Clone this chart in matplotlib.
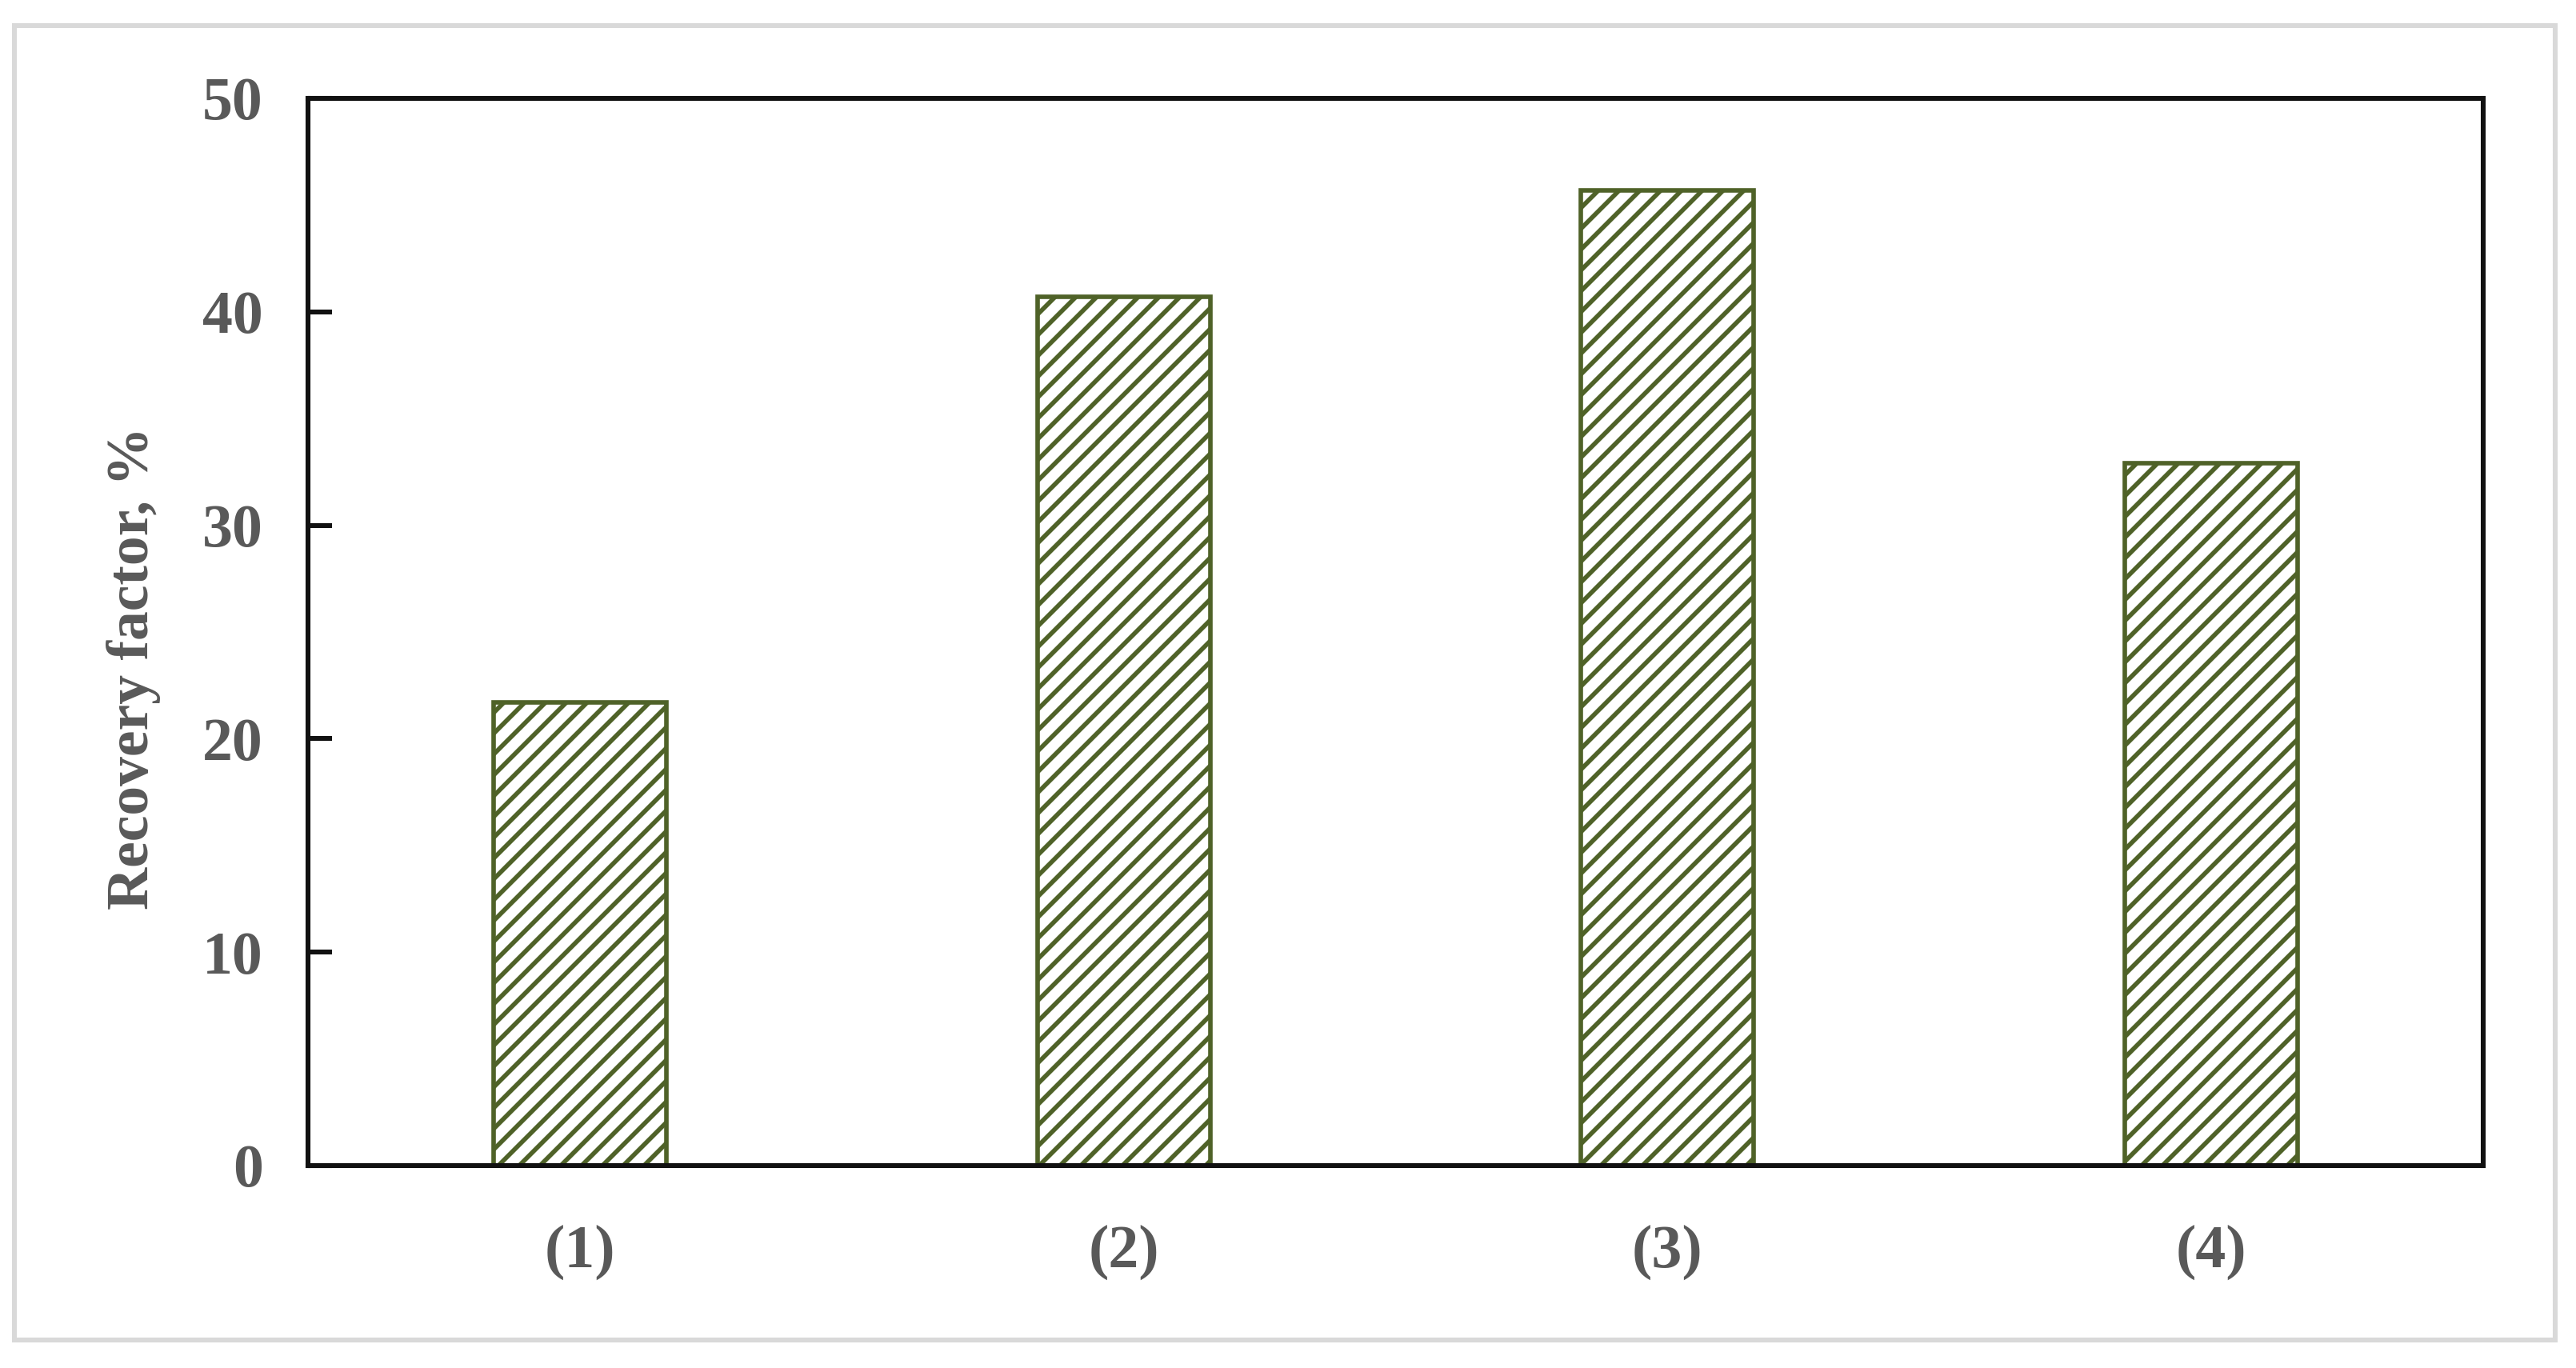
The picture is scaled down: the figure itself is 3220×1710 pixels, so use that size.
import matplotlib
matplotlib.use("Agg")
import matplotlib.pyplot as plt
from matplotlib.patches import Rectangle

categories = ["(1)", "(2)", "(3)", "(4)"]
recovery = [21.7, 40.7, 45.7, 32.9]
yticks = [0, 10, 20, 30, 40, 50]

DPI = 156
W, H = 3220, 1710
plt.rcParams['font.family'] = ['Liberation Serif', 'DejaVu Serif']
plt.rcParams['hatch.linewidth'] = 2.6
plt.rcParams['hatch.color'] = '#4f6228'

fig = plt.figure(figsize=(W / DPI, H / DPI), dpi=DPI)
fig.patch.set_facecolor('white')

# outer light-grey frame
fig.patches.append(Rectangle((18 / W, 1 - 1675 / H), (3194 - 18) / W, (1675 - 32) / H,
                             transform=fig.transFigure, fill=False,
                             edgecolor='#d9d9d9', linewidth=2.8, zorder=0))

ax = fig.add_axes([385 / W, 1 - 1457 / H, (3104 - 385) / W, (1457 - 123) / H])
x = range(len(categories))
ax.bar(x, recovery, width=0.318, color='white', edgecolor='#4f6228',
       linewidth=2.6, hatch='//', zorder=2)

ax.set_xlim(-0.5, 3.5)
ax.set_ylim(0, 50)
ax.set_yticks(yticks)
ax.set_yticklabels([str(v) for v in yticks])
ax.set_xticks(list(x))
ax.set_xticklabels(categories)

for s in ax.spines.values():
    s.set_linewidth(2.8)
    s.set_color('#111111')

txtc = '#595959'
ax.tick_params(axis='y', direction='in', length=14, width=2.8, color='#111111',
               pad=26, labelsize=35, labelcolor=txtc)
ax.tick_params(axis='x', length=0, pad=34, labelsize=35, labelcolor=txtc)
for lab in ax.get_xticklabels() + ax.get_yticklabels():
    lab.set_fontweight('bold')

fig.text(167 / W, 1 - 835 / H, "Recovery factor, %", rotation=90, ha='center',
         va='center', fontsize=34, fontweight='bold', color=txtc)

fig.savefig("out.png", dpi=DPI)
